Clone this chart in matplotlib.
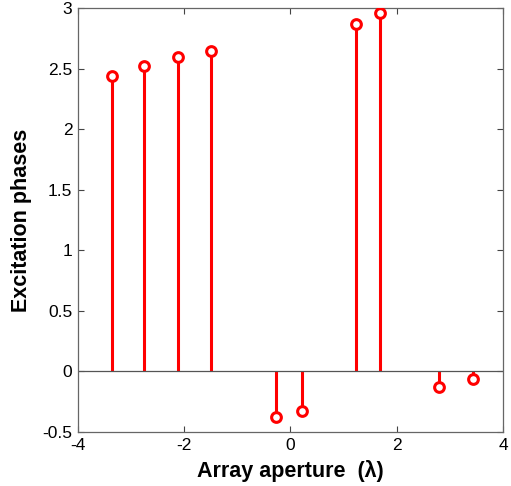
import matplotlib
matplotlib.use("Agg")
import matplotlib.pyplot as plt

plt.rcParams["font.family"] = ["Liberation Sans", "DejaVu Sans"]

positions = [-3.356, -2.759, -2.113, -1.497, -0.279, 0.222, 1.228, 1.686, 2.797, 3.443]
phases = [2.44, 2.524, 2.594, 2.646, -0.374, -0.325, 2.869, 2.962, -0.126, -0.065]

fig = plt.figure(figsize=(5.11, 4.86), dpi=100)
ax = fig.add_axes([0.1526, 0.1111, 0.8317, 0.8724])

markerline, stemlines, baseline = ax.stem(positions, phases)
plt.setp(stemlines, color="red", linewidth=2.2)
plt.setp(markerline, color="red", marker="o", markersize=7, markerfacecolor="white",
         markeredgewidth=2.2, zorder=3)
plt.setp(baseline, color="#555555", linewidth=0.9)
baseline.set_xdata([-4, 4])

ax.set_xlim(-4, 4)
ax.set_ylim(-0.5, 3)
ax.set_xticks([-4, -2, 0, 2, 4])
ax.set_yticks([-0.5, 0, 0.5, 1, 1.5, 2, 2.5, 3])
ax.set_yticklabels(["-0.5", "0", "0.5", "1", "1.5", "2", "2.5", "3"])
ax.set_xticklabels(["-4", "-2", "0", "2", "4"])
ax.tick_params(direction="in", top=True, right=True, length=4, width=0.8,
               color="#444444", labelsize=12.5, pad=4)
for s in ax.spines.values():
    s.set_color("#666666")
    s.set_linewidth(0.9)

ax.set_xlabel("Array aperture  (\u03bb)", fontsize=15.5, fontweight="bold")
ax.set_ylabel("Excitation phases", fontsize=15.5, fontweight="bold")
ax.xaxis.set_label_coords(0.5, -28 / 424, transform=ax.transAxes)
ax.yaxis.set_label_coords(-46 / 425, 0.5, transform=ax.transAxes)

fig.savefig("out.png", dpi=100)
